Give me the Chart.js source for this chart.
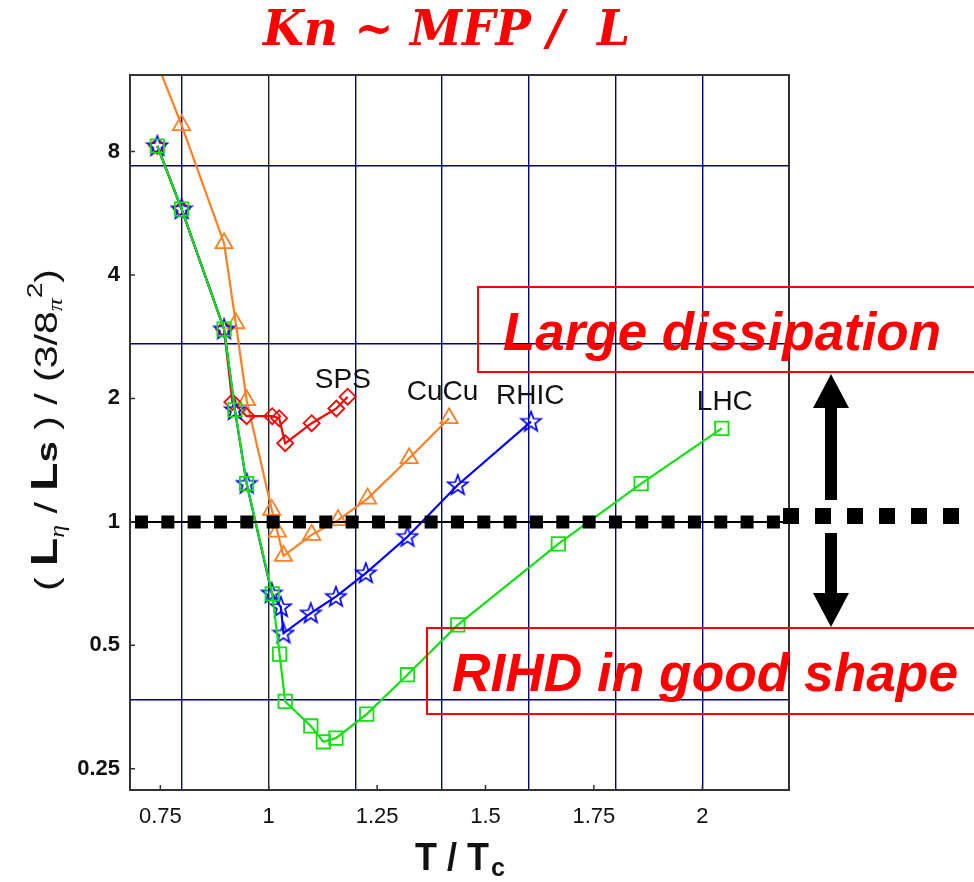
<!DOCTYPE html>
<html>
<head>
<meta charset="utf-8">
<script src="https://cdn.jsdelivr.net/npm/chart.js@4.4.1/dist/chart.umd.min.js"></script>
<style>
  body { margin: 0; background: #fff; }
  canvas { display: block; }
</style>
</head>
<body>
<canvas id="kn" width="974" height="882"></canvas>
<script>
// axis ticks and grid positions
const xTicks = [0.75, 1, 1.25, 1.5, 1.75, 2];
const xGridLines = [0.8, 1.0, 1.2, 1.4, 1.6, 1.8, 2.0];
const yTicks = [0.25, 0.5, 1, 2, 4, 8];
const yGridLines = [Math.exp(-1), 1, Math.E, Math.exp(2)];

// LHC (green squares)
const lhcT = [0.743, 0.799, 0.897, 0.922, 0.949, 1.008, 1.025, 1.038, 1.097, 1.126, 1.155, 1.226, 1.320, 1.436, 1.668, 1.859, 2.045];
const lhcV = [8.25, 5.79, 2.95, 1.875, 1.24, 0.668, 0.476, 0.365, 0.318, 0.291, 0.297, 0.34, 0.424, 0.561, 0.884, 1.24, 1.69];
// RHIC (blue stars)
const rhicT = [0.743, 0.799, 0.897, 0.922, 0.949, 1.007, 1.028, 1.034, 1.097, 1.155, 1.224, 1.320, 1.436, 1.605];
const rhicV = [8.25, 5.79, 2.95, 1.875, 1.24, 0.67, 0.62, 0.535, 0.599, 0.657, 0.75, 0.92, 1.23, 1.756];
// SPS (red diamonds)
const spsT = [0.743, 0.799, 0.897, 0.916, 0.949, 1.008, 1.024, 1.038, 1.099, 1.156, 1.182];
const spsV = [8.25, 5.79, 2.95, 1.96, 1.81, 1.81, 1.79, 1.555, 1.74, 1.89, 2.02];
// CuCu (orange triangles)
const cucuT = [0.743, 0.799, 0.897, 0.924, 0.949, 1.007, 1.020, 1.034, 1.099, 1.16, 1.228, 1.324, 1.416];
const cucuV = [13.1, 9.28, 4.78, 3.05, 1.98, 1.07, 0.947, 0.826, 0.93, 1.01, 1.14, 1.43, 1.79];

// series names placed next to the curves (x, y in data units)
const seriesNames = ['SPS', 'CuCu', 'RHIC', 'LHC'];
const nameX = [1.171, 1.401, 1.603, 2.052];
const nameY = [2.12, 1.98, 1.94, 1.875];

const BLUE = '#0000ff', GREEN = '#11e011', RED = '#ff0000', ORANGE = '#ff7f24', NAVY = '#000080';

Chart.defaults.font.family = "'Liberation Sans', Arial, sans-serif";

function pts(xs, ys) {
  return xs.map((x, i) => ({ x: x, y: ys[i] }));
}

function starImage(color) {
  const c = document.createElement('canvas');
  c.width = 24; c.height = 24;
  const g = c.getContext('2d');
  g.strokeStyle = color;
  g.lineWidth = 1.7;
  g.beginPath();
  for (let i = 0; i < 10; i++) {
    const r = i % 2 ? 4.3 : 10.5;
    const a = -Math.PI / 2 + i * Math.PI / 5;
    g.lineTo(12 + r * Math.cos(a), 12.5 + r * Math.sin(a));
  }
  g.closePath();
  g.stroke();
  return c;
}

// draws text squeezed/stretched to a given width
function fitText(ctx, text, font, x, y, width) {
  ctx.font = font;
  const w = ctx.measureText(text).width;
  ctx.save();
  ctx.translate(x, y);
  ctx.scale(width / w, 1);
  ctx.fillText(text, 0, 0);
  ctx.restore();
}

function arrowUp(ctx, cx, tip, headBase, bottom) {
  ctx.beginPath();
  ctx.moveTo(cx, tip);
  ctx.lineTo(cx + 18, headBase);
  ctx.lineTo(cx + 6, headBase);
  ctx.lineTo(cx + 6, bottom);
  ctx.lineTo(cx - 6, bottom);
  ctx.lineTo(cx - 6, headBase);
  ctx.lineTo(cx - 18, headBase);
  ctx.closePath();
  ctx.fill();
}

function arrowDown(ctx, cx, top, headBase, tip) {
  ctx.beginPath();
  ctx.moveTo(cx - 6, top);
  ctx.lineTo(cx + 6, top);
  ctx.lineTo(cx + 6, headBase);
  ctx.lineTo(cx + 18, headBase);
  ctx.lineTo(cx, tip);
  ctx.lineTo(cx - 18, headBase);
  ctx.lineTo(cx - 6, headBase);
  ctx.closePath();
  ctx.fill();
}

const decor = {
  id: 'decor',
  afterDatasetsDraw(chart) {
    const ctx = chart.ctx, a = chart.chartArea;
    const xs = chart.scales.x, ys = chart.scales.y;
    ctx.save();
    // reference line at 1
    const y1 = ys.getPixelForValue(1);
    ctx.strokeStyle = '#000';
    ctx.lineWidth = 2;
    ctx.beginPath();
    ctx.moveTo(a.left, y1); ctx.lineTo(a.right, y1);
    ctx.stroke();
    ctx.lineWidth = 13;
    ctx.setLineDash([13, 13.33]);
    ctx.beginPath();
    ctx.moveTo(135, y1); ctx.lineTo(780, y1);
    ctx.stroke();
    ctx.setLineDash([]);

    // series names
    ctx.fillStyle = '#111';
    ctx.font = "28px 'Liberation Sans', Arial, sans-serif";
    ctx.textAlign = 'center';
    ctx.textBaseline = 'alphabetic';
    seriesNames.forEach((n, i) => {
      ctx.fillText(n, xs.getPixelForValue(nameX[i]), ys.getPixelForValue(nameY[i]));
    });
    ctx.restore();
  },
  afterDraw(chart) {
    const ctx = chart.ctx, a = chart.chartArea;
    const xs = chart.scales.x, ys = chart.scales.y;
    ctx.save();
    // frame
    ctx.strokeStyle = '#333';
    ctx.lineWidth = 2;
    ctx.strokeRect(a.left, a.top, a.right - a.left, a.bottom - a.top);
    // inward tick marks
    ctx.lineWidth = 1.5;
    ctx.beginPath();
    yTicks.forEach(v => {
      const p = ys.getPixelForValue(v);
      ctx.moveTo(a.left, p); ctx.lineTo(a.left + 5, p);
    });
    xTicks.forEach(v => {
      const p = xs.getPixelForValue(v);
      ctx.moveTo(p, a.bottom); ctx.lineTo(p, a.bottom - 5);
    });
    ctx.stroke();

    // title
    ctx.fillStyle = RED;
    ctx.textAlign = 'left';
    ctx.textBaseline = 'alphabetic';
    fitText(ctx, 'Kn ~ MFP /  L', "italic bold 48px 'DejaVu Serif', serif", 263, 45, 367);

    // boxes with messages
    ctx.strokeStyle = RED;
    ctx.lineWidth = 2;
    ctx.strokeRect(478, 287, 520, 85);
    ctx.strokeRect(427, 628, 570, 86);
    fitText(ctx, 'Large dissipation', "italic bold 53px 'Liberation Sans', Arial, sans-serif", 503, 350, 438);
    fitText(ctx, 'RIHD in good shape', "italic bold 53px 'Liberation Sans', Arial, sans-serif", 452, 691, 506);

    // dashed extension and arrows
    ctx.strokeStyle = '#000';
    ctx.lineWidth = 16;
    ctx.setLineDash([16, 16]);
    ctx.beginPath();
    ctx.moveTo(783, 516); ctx.lineTo(980, 516);
    ctx.stroke();
    ctx.setLineDash([]);
    ctx.fillStyle = '#000';
    arrowUp(ctx, 831, 374, 408, 500);
    arrowDown(ctx, 831, 533, 593, 627);

    // x title
    ctx.fillStyle = '#111';
    fitText(ctx, 'T / T', "bold 38px 'Liberation Sans', Arial, sans-serif", 415, 870, 74);
    fitText(ctx, 'c', "bold 26px 'Liberation Sans', Arial, sans-serif", 491, 876, 14);

    // y title, rotated
    const segs = [
      ['( ', "32px 'Liberation Sans', Arial, sans-serif", 0],
      ['L', "bold 36px 'Liberation Sans', Arial, sans-serif", 0],
      ['\u03b7', "italic 20px 'Liberation Serif', serif", 7],
      [' / ', "32px 'Liberation Sans', Arial, sans-serif", 0],
      ['L', "bold 36px 'Liberation Sans', Arial, sans-serif", 0],
      ['s', "bold 30px 'Liberation Sans', Arial, sans-serif", 0],
      [' ) / (3/8', "32px 'Liberation Sans', Arial, sans-serif", 0],
      ['\u03c0', "italic 20px 'Liberation Serif', serif", 5],
      ['2', "22px 'Liberation Sans', Arial, sans-serif", -15],
      [')', "32px 'Liberation Sans', Arial, sans-serif", 0]
    ];
    let total = 0;
    segs.forEach(s => { ctx.font = s[1]; total += ctx.measureText(s[0]).width; });
    const len = 322;
    ctx.translate(57, 430);
    ctx.rotate(-Math.PI / 2);
    ctx.scale(len / total, 1);
    let u = -total / 2;
    segs.forEach(s => {
      ctx.font = s[1];
      ctx.fillText(s[0], u, s[2]);
      u += ctx.measureText(s[0]).width;
    });
    ctx.restore();
  }
};

const lineBase = { showLine: true, borderWidth: 2.2, tension: 0, pointBorderWidth: 1.8, pointBackgroundColor: 'rgba(0,0,0,0)' };

new Chart(document.getElementById('kn'), {
  type: 'scatter',
  data: {
    datasets: [
      Object.assign({}, lineBase, { label: 'LHC', data: pts(lhcT, lhcV), borderColor: GREEN, pointBorderColor: GREEN, pointStyle: 'rect', pointRadius: 9.5, order: 0 }),
      Object.assign({}, lineBase, { label: 'RHIC', data: pts(rhicT, rhicV), borderColor: BLUE, pointBorderColor: BLUE, pointStyle: starImage(BLUE), pointRadius: 10, order: 1 }),
      Object.assign({}, lineBase, { label: 'SPS', data: pts(spsT, spsV), borderColor: RED, pointBorderColor: RED, pointStyle: 'rectRot', pointRadius: 8, order: 2 }),
      Object.assign({}, lineBase, { label: 'CuCu', data: pts(cucuT, cucuV), borderColor: ORANGE, pointBorderColor: ORANGE, pointStyle: 'triangle', pointRadius: 10, order: 3 })
    ]
  },
  options: {
    responsive: false,
    animation: false,
    devicePixelRatio: 1,
    layout: { padding: { left: 0, right: 185, top: 75, bottom: 0 } },
    plugins: { legend: { display: false }, tooltip: { enabled: false } },
    scales: {
      x: {
        type: 'linear', position: 'bottom', min: 0.68, max: 2.2, bounds: 'data',
        afterBuildTicks: s => { s.ticks = xTicks.map(v => ({ value: v })); },
        afterFit: s => { s.height = 92; },
        grid: { display: false, drawTicks: false },
        border: { display: false },
        ticks: { padding: 14, color: '#111', font: { size: 22 }, autoSkip: false, maxRotation: 0, callback: v => String(v) }
      },
      xg: {
        type: 'linear', position: 'bottom', min: 0.68, max: 2.2, bounds: 'data',
        afterBuildTicks: s => { s.ticks = xGridLines.map(v => ({ value: v })); },
        afterFit: s => { s.height = 0; },
        grid: { drawTicks: false, lineWidth: 1.4, color: c => (c.tick && Math.abs(c.tick.value - 1) < 1e-9) ? '#222' : NAVY },
        border: { display: false },
        ticks: { display: false }
      },
      y: {
        type: 'logarithmic', position: 'left', min: 0.222, max: 12.29, bounds: 'data',
        afterBuildTicks: s => { s.ticks = yTicks.map(v => ({ value: v })); },
        afterFit: s => { s.width = 130; },
        grid: { display: false, drawTicks: false },
        border: { display: false },
        ticks: { padding: 10, color: '#111', font: { size: 22, weight: 'bold' }, autoSkip: false, callback: v => String(v) }
      },
      yg: {
        type: 'logarithmic', position: 'left', min: 0.222, max: 12.29, bounds: 'data',
        afterBuildTicks: s => { s.ticks = yGridLines.map(v => ({ value: v })); },
        afterFit: s => { s.width = 0; },
        grid: { drawTicks: false, lineWidth: 1.4, color: c => (c.tick && Math.abs(c.tick.value - 1) < 1e-9) ? '#000' : NAVY },
        border: { display: false },
        ticks: { display: false }
      }
    }
  },
  plugins: [decor]
});
</script>
</body>
</html>
